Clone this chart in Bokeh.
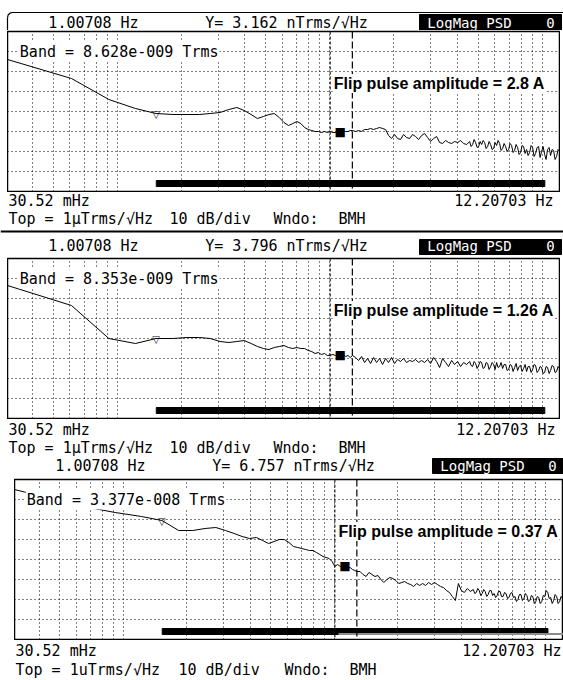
import math

from bokeh.core.properties import value
from bokeh.embed import file_html
from bokeh.layouts import column
from bokeh.models import FixedTicker, Grid, Label, Range1d, Span
from bokeh.plotting import figure
from bokeh.resources import INLINE

# ---------------------------------------------------------------- data
F_START = 0.03052      # Hz, first line of the 400-line span
F_STOP = 12.20703      # Hz
TOP_DB = -120.0        # top of screen: 1 uTrms/sqrt(Hz)
DB_PER_DIV = 10
N_DIV = 8

# trace frequencies (Hz): first 42 FFT lines, then the upper band
freq_hz = [
    0.03052, 0.06104, 0.09155, 0.12207, 0.15259, 0.18311, 0.21362, 0.24414, 0.27466, 0.30518,
    0.33569, 0.36621, 0.39673, 0.42725, 0.45776, 0.48828, 0.5188, 0.54932, 0.57983, 0.61035,
    0.64087, 0.67139, 0.7019, 0.73242, 0.76294, 0.79346, 0.82397, 0.85449, 0.88501, 0.91553,
    0.94604, 0.97656, 1.00708, 1.0376, 1.06812, 1.09863, 1.12915, 1.15967, 1.19019, 1.2207,
    1.25122, 1.28174,
    1.326, 1.369, 1.415, 1.461, 1.510, 1.559, 1.611, 1.664, 1.719, 1.776,
    1.834, 1.895, 1.958, 2.022, 2.089, 2.158, 2.229, 2.303, 2.379, 2.458,
    2.539, 2.623, 2.710, 2.800, 2.892, 2.988, 3.087, 3.189, 3.294, 3.403,
    3.516, 3.631, 3.752, 3.876, 4.004, 4.136, 4.273, 4.414,
    4.560, 4.635, 4.711, 4.788, 4.866, 4.946, 5.027, 5.109, 5.193, 5.278,
    5.365, 5.453, 5.542, 5.633, 5.725, 5.819, 5.914, 6.011, 6.109, 6.209,
    6.310, 6.414, 6.519, 6.626, 6.734, 6.845, 6.957, 7.071, 7.186, 7.304,
    7.424, 7.545, 7.669, 7.795, 7.922, 8.052, 8.184, 8.318, 8.455, 8.593,
    8.734, 8.877, 9.022, 9.170, 9.320, 9.473, 9.628, 9.786, 9.946, 10.11,
    10.28, 10.44, 10.61, 10.79, 10.96, 11.14, 11.33, 11.51, 11.70, 11.89,
    12.09, 12.207,
]

# LogMag PSD traces, dB re 1 Trms/sqrt(Hz)
psd_28A_db = [
    -134, -143.5, -154, -158.5, -161, -161.5, -161.5, -161.5, -161, -160.5,
    -159, -158, -159.5, -161.5, -163.5, -162.5, -161.5, -161, -163, -165.5,
    -167, -166, -165, -166, -168, -169, -169.5, -170, -170, -170.5,
    -170, -170.5, -170.0, -170.5, -170.5, -171, -170.5, -170, -170, -170,
    -169.5, -169.5,
    -170, -169.5, -170, -169, -169, -168.5, -169, -168.5, -168, -168.5,
    -169, -172, -173.5, -171.5, -173.5, -174, -171.5, -173, -173.5, -171.5,
    -172.5, -174, -172, -171, -173, -175, -173.5, -172.5, -175.5, -176,
    -174.5, -175.5, -176, -175, -175.5, -174.5, -176, -176.5,
    -175, -177.5, -176.5, -174, -175.5, -178, -177.5, -175, -176.5, -174.5,
    -175.5, -178.5, -177.5, -175, -176.5, -179, -178.5, -175.5, -177, -174.5,
    -176, -179.5, -178.5, -176, -177.5, -180, -179, -176, -177, -180.5,
    -179.5, -176.5, -178, -181.5, -180.5, -177, -177.5, -181, -179, -182,
    -180.5, -177, -178, -182.5, -181, -178, -177.5, -183, -180, -177.5,
    -181.5, -184, -179, -178, -182, -179, -179.5, -184, -182.5, -179,
    -180, -181,
]
psd_126A_db = [
    -133.5, -143.5, -160, -162.5, -160, -160, -159.5, -159.5, -160, -161.5,
    -162, -161.5, -161, -162.5, -164, -165, -165.5, -164.5, -164, -163.5,
    -164.5, -165, -164.5, -165, -165, -166, -166.5, -167.5, -167, -168,
    -167.5, -168.5, -168.4, -168, -168.5, -168, -168.5, -168, -169, -168.5,
    -169.5, -168.5,
    -169.5, -171, -169, -172, -170, -172.5, -169.5, -172, -170, -173,
    -170, -172, -169.5, -172.5, -170.5, -171.5, -170, -172, -171, -171.5,
    -170.5, -172, -171, -172, -170.5, -172.5, -169.5, -171.5, -174.5, -170,
    -172, -174, -171, -173, -171.5, -174, -172, -173,
    -171.5, -173.5, -174, -171.5, -172.5, -175, -173.5, -171.5, -172, -175,
    -174.5, -172, -172.5, -175.5, -174, -172, -173, -175.5, -172, -174.5,
    -174, -172, -175, -173, -173, -176, -175.5, -173, -173.5, -176.5,
    -174.5, -172.5, -176, -174, -173.5, -176.5, -175, -173, -176.5, -174,
    -174, -177, -175.5, -173, -173.5, -177, -176, -174, -174.5, -177.5,
    -177, -174, -174.5, -177.5, -176, -173.5, -174, -177, -176.5, -174,
    -175, -176,
]
psd_037A_db = [
    -125, -133, -136.5, -138.5, -140.5, -145.5, -145.5, -144.5, -144, -145.5,
    -147, -148.5, -149.5, -149, -150.5, -152, -151, -150, -150, -151.5,
    -153.5, -154, -154.5, -155, -155.5, -155.5, -156.5, -157.5, -158.5, -159,
    -159.5, -161, -163.4, -162.5, -163.5, -163, -164, -164.5, -164, -165,
    -165.5, -166,
    -166, -167.5, -168.5, -166.5, -167.5, -168.5, -168, -170, -171.5, -170,
    -169, -169.5, -170.5, -172, -171.5, -171, -172, -172.5, -173.5, -172,
    -173, -172, -173, -171.5, -172.5, -171.5, -172.5, -173.5, -174, -175.5,
    -176.5, -178.5, -180.5, -172, -175.5, -176.5, -174.5, -176,
    -175, -177, -176.5, -174.5, -175.5, -178, -177, -175, -176, -178.5,
    -177.5, -175.5, -175.5, -178, -177, -179, -178, -176, -176, -178.5,
    -178.5, -176.5, -177, -179.5, -179, -177, -176.5, -179, -178.5, -181,
    -180, -177.5, -177.5, -180.5, -179.5, -177, -178, -181, -180.5, -178,
    -178.5, -182, -181, -178.5, -179, -182, -181, -178, -178.5, -175.5,
    -176.5, -179.5, -179, -182, -180.5, -177.5, -178.5, -182, -181, -178.5,
    -179.5, -180.5,
]
traces_db = [psd_28A_db, psd_126A_db, psd_037A_db]

flip_amplitude_a = [2.8, 1.26, 0.37]
marker_hz = 1.00708
marker_y_nt = [3.162, 3.796, 6.757]
band_trms = [8.628e-9, 8.353e-9, 3.377e-8]
band_upper_hz = 1.28
offset_marker_index = 4          # trace point carrying the offset marker
span_bar_hz = (0.153, 10.3)
top_units = ["1\u00b5Trms/\u221aHz", "1\u00b5Trms/\u221aHz", "1uTrms/\u221aHz"]

for tr in traces_db:
    assert len(tr) == len(freq_hz)

# ---------------------------------------------------------------- styling
MONO = "DejaVu Sans Mono"
BOLD = "Liberation Sans"
W = 563
BOTTOM_DB = TOP_DB - DB_PER_DIV * N_DIV
vgrid = [m * 10.0 ** e for e in range(-2, 2) for m in range(1, 10)
         if F_START < m * 10.0 ** e < F_STOP]
hgrid = [TOP_DB - DB_PER_DIV * i for i in range(1, N_DIV)]


def fmt_exp(v):
    mant, ex = f"{v:.3e}".split("e")
    ex = int(ex)
    return f"{mant}e{'-' if ex < 0 else '+'}{abs(ex):03d}"


def strip(h):
    # text band between screens; x and y are page pixels within the band
    s = figure(width=W, height=h, x_range=Range1d(0, W), y_range=Range1d(h, 0),
               x_axis_location=None, y_axis_location=None,
               min_border_left=0, min_border_right=0, min_border_top=0, min_border_bottom=0,
               toolbar_location=None, output_backend="svg", margin=(0, 0, 0, 0))
    s.grid.visible = False
    s.outline_line_color = None
    return s


def put(s, x, y, t, align="left", color="black", size="15px", font=MONO):
    s.text(x=[x], y=[y], text=[t], text_align=align, text_baseline="middle",
           text_color=color, text_font=value(font), text_font_size=value(size))


def header(s, y, x_freq, x_y, box, y_nt):
    left, right, top, bottom = box
    put(s, x_freq, y, f"{marker_hz:.5f} Hz", align="center")
    put(s, x_y, y, f"Y= {y_nt:.3f} nTrms/\u221aHz", align="center")
    s.quad(left=[left], right=[right], top=[top], bottom=[bottom], color="black")
    put(s, left + 50, y, "LogMag PSD", align="center", color="white", size="14px")
    put(s, right - 11, y, "0", align="center", color="white", size="14px")


def footer(s, y1, y2, x0, x_end, cols, unit):
    put(s, x0, y1, f"{F_START * 1000:.2f} mHz")
    put(s, x_end, y1, f"{F_STOP:.5f} Hz", align="right")
    put(s, x0, y2, f"Top = {unit}")
    put(s, cols[0], y2, f"{DB_PER_DIV} dB/div")
    put(s, cols[1], y2, "Wndo:")
    put(s, cols[2], y2, "BMH")


def spectrum(i, left, right, gray_tail=False):
    # screen frame spans page pixels left .. W-right
    trace = traces_db[i]
    p = figure(width=W - right - left, height=162, x_axis_type="log",
               x_range=Range1d(F_START, F_STOP), y_range=Range1d(BOTTOM_DB, TOP_DB),
               x_axis_location=None, y_axis_location=None,
               min_border_left=0, min_border_right=0,
               min_border_top=1, min_border_bottom=1,
               toolbar_location=None, output_backend="svg",
               margin=(0, 0, 0, left))
    p.grid.visible = False
    p.outline_line_color = "black"
    p.outline_line_width = 1.5
    p.background_fill_color = "white"
    for dim, ticks in ((0, vgrid), (1, hgrid)):
        p.add_layout(Grid(dimension=dim, ticker=FixedTicker(ticks=ticks),
                          grid_line_color="black", grid_line_alpha=1.0,
                          grid_line_dash="1 3", grid_line_width=1), "center")

    # span indicator bar along the bottom
    p.quad(left=[span_bar_hz[0]], right=[span_bar_hz[1]],
           top=[BOTTOM_DB + 5.5], bottom=[BOTTOM_DB + 2.5], color="black")
    if gray_tail:
        p.line([marker_hz * 1.04, F_STOP], [BOTTOM_DB + 2.7] * 2,
               line_color="#8c8c8c", line_width=2)

    p.line(freq_hz, trace, line_color="black", line_width=1)

    # offset marker and main marker
    p.text(x=[freq_hz[offset_marker_index]], y=[trace[offset_marker_index]],
           text=["\u25bd"], text_align="center", text_baseline="alphabetic",
           text_font=value("DejaVu Sans"), text_font_size=value("10px"),
           text_color="black", y_offset=1)
    y_db = 20 * math.log10(marker_y_nt[i] * 1e-9)
    p.text(x=[marker_hz], y=[y_db], text=["\u25a0"], x_offset=10,
           text_align="center", text_baseline="middle",
           text_font=value("DejaVu Sans"), text_font_size=value("12px"),
           text_color="black")

    p.add_layout(Span(location=marker_hz, dimension="height", line_color="black",
                      line_dash="3 2", line_width=1))
    p.add_layout(Span(location=band_upper_hz, dimension="height", line_color="black",
                      line_dash="7 3", line_width=1.2))

    p.add_layout(Label(x=0.0345, y=TOP_DB - DB_PER_DIV, text=f"Band = {fmt_exp(band_trms[i])} Trms",
                       text_font=MONO, text_font_size="15px", text_color="black",
                       text_baseline="middle", background_fill_color="white", padding=1))
    p.add_layout(Label(x=1.035, y=TOP_DB - 26, text=f"Flip pulse amplitude = {flip_amplitude_a[i]} A",
                       text_font=BOLD, text_font_style="bold", text_font_size="16px",
                       text_color="black", text_baseline="middle",
                       background_fill_color="white", padding=1))
    return p


# ---------------------------------------------------------------- layout
s0 = strip(30)
s0.line([W, 12, 9.5, 7.7, 7], [12, 12, 12.7, 14.3, 17], line_color="black", line_width=1.2)
s0.line([7, 7], [17, 30], line_color="black", line_width=1.2)
header(s0, 22, 93, 286, (419, 561, 14, 30), marker_y_nt[0])

p1 = spectrum(0, 7, 3)

s1 = strip(65)
footer(s1, 8, 26, 8, 553, (169, 273, 338), top_units[0])
s1.line([0, W], [39, 39], line_color="black", line_width=2)
header(s1, 53, 93, 286, (419, 561, 47, 62), marker_y_nt[1])

p2 = spectrum(1, 7, 3)

s2 = strip(59)
footer(s2, 10, 28, 8, 555, (169, 273, 338), top_units[1])
header(s2, 46, 100, 293, (432, 563, 39, 54), marker_y_nt[2])

p3 = spectrum(2, 14, 0, gray_tail=True)

s3 = strip(40)
footer(s3, 10, 29, 15, 561, (178, 284, 349), top_units[2])

layout = column(s0, p1, s1, p2, s2, p3, s3, spacing=0)
open("out.html", "w").write(file_html(layout, INLINE))
